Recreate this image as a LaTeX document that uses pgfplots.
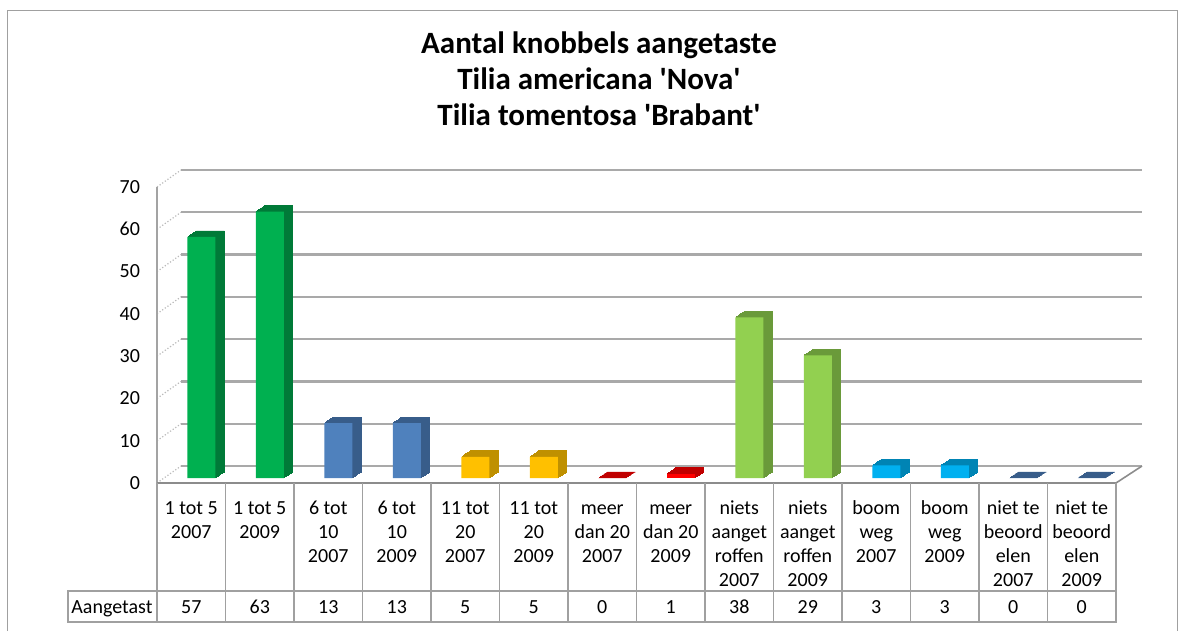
\documentclass[border=0pt]{standalone}
\usepackage{fontspec}
\setmainfont{Carlito}
\usepackage{pgfplots}
\pgfplotsset{compat=1.18}

\definecolor{grnF}{HTML}{00B050} \definecolor{grnS}{HTML}{007A38}
\definecolor{bluF}{HTML}{4F81BD} \definecolor{bluS}{HTML}{385D8A}
\definecolor{yelF}{HTML}{FFC000} \definecolor{yelS}{HTML}{BF9000}
\definecolor{redF}{HTML}{FF0000} \definecolor{redS}{HTML}{C00000}
\definecolor{lgrF}{HTML}{92D050} \definecolor{lgrS}{HTML}{6A9A3A}
\definecolor{cyaF}{HTML}{00B0F0} \definecolor{cyaS}{HTML}{0084B4}
\definecolor{gridc}{HTML}{8C8C8C}
\definecolor{tabc}{HTML}{A0A0A0}

% fake 3D bar: a stack of darker copies behind, front face on top
\newcommand{\bars}[3]{%
  \pgfplotsinvokeforeach{1,...,10}{%
    \addplot[ybar, bar width=14pt, bar shift=0pt, fill=#2, draw=#2, line width=0.4pt,
      xshift={5pt+0.45pt*##1}, yshift={2.5pt+0.3pt*##1}] coordinates {#3};}
  \addplot[ybar, bar width=14pt, bar shift=0pt, fill=#1, draw=none,
    xshift=5pt, yshift=2.5pt] coordinates {#3};
}

\begin{document}
\begin{tikzpicture}
\useasboundingbox (0,0) rectangle (593pt,315.5pt);

\begin{axis}[
    at={(78.5pt,74pt)}, anchor=south west,
    width=479.5pt, height=148pt, scale only axis,
    xmin=0, xmax=14, ymin=0, ymax=70,
    xtick=\empty, ytick={0,10,...,70},
    axis line style={draw=none}, major tick length=0pt,
    clip=false,
    yticklabel style={font=\fontsize{10}{12}\selectfont, xshift=-5pt},
    /pgf/number format/assume math mode=true,
  ]
  % back wall, side wall and floor
  \pgfplotsinvokeforeach{0,10,20,30,40,50,60,70}{
    \draw[gridc!60, line width=0.6pt, densely dotted] (axis cs:0,#1) -- ++(12pt,8.5pt);
    \draw[gridc!75, line width=1.1pt] ([xshift=12pt,yshift=8.5pt]axis cs:0,#1) -- ([xshift=13pt,yshift=8.5pt]axis cs:14,#1);
  }
  \draw[gridc!80, line width=0.8pt] (axis cs:0,0) -- (axis cs:0,70);
  \draw[gridc, line width=0.8pt] (axis cs:0,0) -- (axis cs:14,0) -- ++(13pt,8.5pt);

  \bars{grnF}{grnS}{(0.5,57) (1.5,63)}
  \bars{bluF}{bluS}{(2.5,13) (3.5,13)}
  \bars{yelF}{yelS}{(4.5,5) (5.5,5)}
  \bars{redS}{redS}{(6.5,0)}
  \bars{redF}{redS}{(7.5,1)}
  \bars{lgrF}{lgrS}{(8.5,38) (9.5,29)}
  \bars{cyaF}{cyaS}{(10.5,3) (11.5,3)}
  \bars{bluF}{bluS}{(12.5,0) (13.5,0)}
\end{axis}

\begin{scope}[x=0.5pt,y=-0.5pt,yshift=315.5pt]
  % chart frame
  \draw[tabc, line width=0.5pt] (7,631) -- (7,11) -- (1177,11) -- (1177,631);
  % title
  \begin{scope}[font=\bfseries\fontsize{15.5}{18}\selectfont]
    \node[anchor=base] at (599,54) {Aantal knobbels aangetaste};
    \node[anchor=base] at (599,90) {Tilia americana \textquotesingle Nova\textquotesingle};
    \node[anchor=base] at (599,126) {Tilia tomentosa \textquotesingle Brabant\textquotesingle};
  \end{scope}
  % data table
  \draw[tabc, line width=0.6pt] (68,591) rectangle (1116,622);
  \draw[tabc, line width=0.6pt] (157,591) -- (1116,591);
  \foreach \i in {0,...,14}
    \draw[tabc, line width=0.6pt] (157+68.5*\i,483) -- (157+68.5*\i,622);
  \begin{scope}[font=\fontsize{10}{12}\selectfont]
    \foreach \i/\t in {1/{1 tot 5\\2007}, 2/{1 tot 5\\2009}, 3/{6 tot\\10\\2007},
        4/{6 tot\\10\\2009}, 5/{11 tot\\20\\2007}, 6/{11 tot\\20\\2009},
        7/{meer\\dan 20\\2007}, 8/{meer\\dan 20\\2009},
        9/{niets\\aanget\\roffen\\2007}, 10/{niets\\aanget\\roffen\\2009},
        11/{boom\\weg\\2007}, 12/{boom\\weg\\2009},
        13/{niet te\\beoord\\elen\\2007}, 14/{niet te\\beoord\\elen\\2009}}
      \node[anchor=north, inner sep=0pt, align=center] at (157+68.5*\i-34.25,497.7) {\strut\t};
    \foreach \i/\v in {1/57, 2/63, 3/13, 4/13, 5/5, 6/5, 7/0, 8/1, 9/38, 10/29, 11/3, 12/3, 13/0, 14/0}
      \node[anchor=base] at (157+68.5*\i-34.25,613.5) {\v};
    \node[anchor=base west, inner sep=0pt] at (71,613.5) {Aangetast};
  \end{scope}
\end{scope}
\end{tikzpicture}
\end{document}
